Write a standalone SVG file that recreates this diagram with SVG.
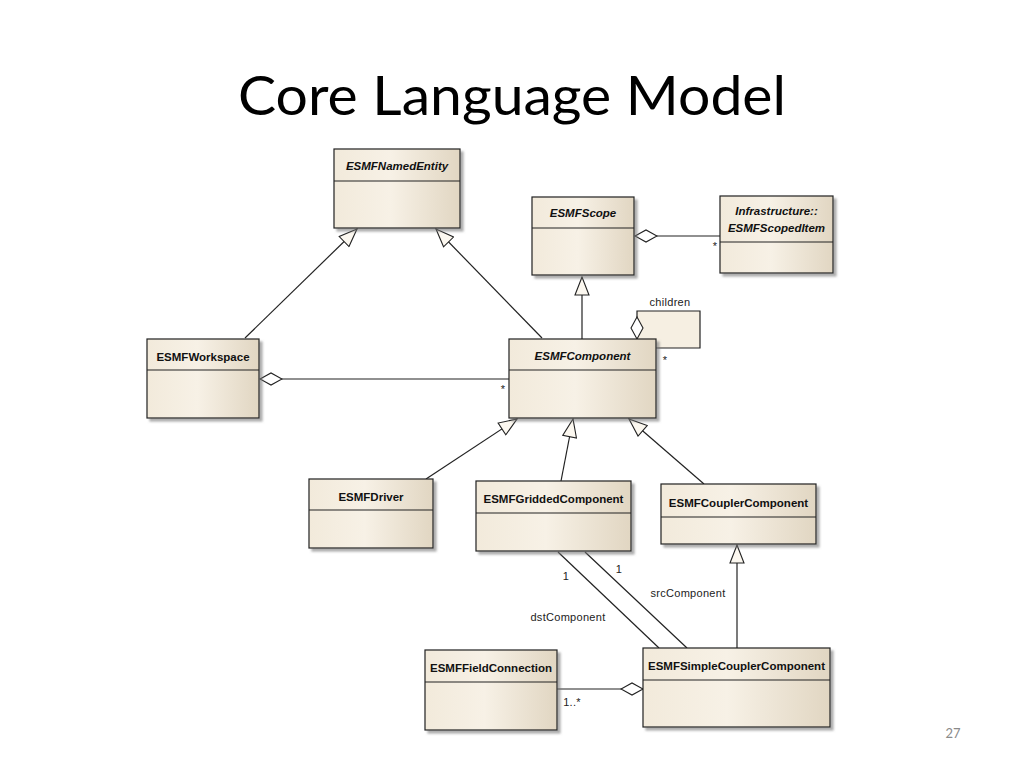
<svg xmlns="http://www.w3.org/2000/svg" width="1024" height="768" viewBox="0 0 1024 768">
<style>
.box{fill:url(#cream);stroke:#222;stroke-width:1.2;filter:url(#sh)}
.div{stroke:#222;stroke-width:1.2}
.nm{font-family:"Liberation Sans",Arial,sans-serif;font-size:11.5px;font-weight:bold;text-anchor:middle;fill:#111}
.it{font-style:italic}
.lbl{font-family:"Liberation Sans",Arial,sans-serif;font-size:11px;fill:#222;letter-spacing:0.3px}
.ln{fill:none;stroke:#222;stroke-width:1.2}
.gen{marker-end:url(#tri)}
.agg{marker-start:url(#dia)}
</style>
<defs>
<linearGradient id="cream" x1="0" y1="0" x2="1" y2="0">
<stop offset="0" stop-color="#f2eadb"/>
<stop offset="0.45" stop-color="#f7f1e6"/>
<stop offset="1" stop-color="#e1d6c2"/>
</linearGradient>
<filter id="sh" x="-10%" y="-10%" width="130%" height="130%">
<feDropShadow dx="3" dy="3" stdDeviation="1.2" flood-color="#777" flood-opacity="0.6"/>
</filter>
<marker id="tri" viewBox="-1 -1 20 16" refX="18" refY="7" markerWidth="20" markerHeight="16" markerUnits="userSpaceOnUse" orient="auto">
<path d="M18,7 L0,0 L0,14 Z" fill="#fcf8f0" stroke="#222" stroke-width="1.1"/>
</marker>
<marker id="dia" viewBox="-1 -1 24 14" refX="0" refY="6" markerWidth="24" markerHeight="14" markerUnits="userSpaceOnUse" orient="auto">
<path d="M0,6 L11,0 L22,6 L11,12 Z" fill="#fff" stroke="#222" stroke-width="1.1"/>
</marker>
</defs>
<rect width="1024" height="768" fill="#fff"/>
<text x="512" y="115" font-family="Lato,'Open Sans',sans-serif" font-size="54" text-anchor="middle" textLength="548" lengthAdjust="spacingAndGlyphs" fill="#000">Core Language Model</text>
<text x="953" y="738" font-family="Lato,'Open Sans',sans-serif" font-size="13" text-anchor="middle" fill="#8a8a8a">27</text>

<g id="connectors">
<path class="ln gen" d="M245,338 L357,229"/>
<path class="ln gen" d="M542,338 L436,229"/>
<path class="ln gen" d="M582,339 L582,277"/>
<path class="ln agg" d="M635,236 L720,236"/>
<path class="ln agg" d="M260,379 L509,379"/>
<path d="M637,311 L700,311 L700,348 L656,348 L656,339 L637,339 Z" fill="#f6efe2" stroke="none"/>
<path class="ln agg" d="M637,339 L637,311 L700,311 L700,348 L656,348"/>
<path class="ln gen" d="M426,479 L517,419"/>
<path class="ln gen" d="M561,481 L573,419"/>
<path class="ln gen" d="M704,484 L629,419"/>
<path class="ln gen" d="M737,648 L737,545"/>
<path class="ln" d="M558,552 L659,648"/>
<path class="ln" d="M585,552 L687,648"/>
<path class="ln agg" d="M643,689 L557,689"/>
<text class="lbl" x="715" y="250" text-anchor="middle">*</text>
<text class="lbl" x="503" y="393" text-anchor="middle">*</text>
<text class="lbl" x="670" y="306" text-anchor="middle">children</text>
<text class="lbl" x="665" y="364" text-anchor="middle">*</text>
<text class="lbl" x="566" y="580" text-anchor="middle">1</text>
<text class="lbl" x="619" y="573" text-anchor="middle">1</text>
<text class="lbl" x="688" y="597" text-anchor="middle">srcComponent</text>
<text class="lbl" x="568" y="621" text-anchor="middle">dstComponent</text>
<text class="lbl" x="572" y="706" text-anchor="middle">1..*</text>
</g>

<g id="ESMFNamedEntity">
<rect class="box" x="334" y="149" width="126" height="79"/>
<line class="div" x1="334" y1="181" x2="460" y2="181"/>
<text class="nm it" x="397" y="170">ESMFNamedEntity</text>
</g>
<g id="ESMFScope">
<rect class="box" x="532" y="197" width="102" height="78"/>
<line class="div" x1="532" y1="228" x2="634" y2="228"/>
<text class="nm it" x="583" y="217">ESMFScope</text>
</g>
<g id="ESMFScopedItem">
<rect class="box" x="720" y="196" width="113" height="77"/>
<line class="div" x1="720" y1="242" x2="833" y2="242"/>
<text class="nm it" x="776.5" y="215">Infrastructure::</text>
<text class="nm it" x="776.5" y="232">ESMFScopedItem</text>
</g>
<g id="ESMFWorkspace">
<rect class="box" x="147" y="339" width="112" height="79"/>
<line class="div" x1="147" y1="370" x2="259" y2="370"/>
<text class="nm" x="203" y="361">ESMFWorkspace</text>
</g>
<g id="ESMFComponent">
<rect class="box" x="509" y="339" width="147" height="79"/>
<line class="div" x1="509" y1="370" x2="656" y2="370"/>
<text class="nm it" x="582.5" y="360">ESMFComponent</text>
</g>
<g id="ESMFDriver">
<rect class="box" x="309" y="479" width="124" height="69"/>
<line class="div" x1="309" y1="510" x2="433" y2="510"/>
<text class="nm" x="371" y="501">ESMFDriver</text>
</g>
<g id="ESMFGriddedComponent">
<rect class="box" x="476" y="481" width="155" height="70"/>
<line class="div" x1="476" y1="513" x2="631" y2="513"/>
<text class="nm" x="553.5" y="503">ESMFGriddedComponent</text>
</g>
<g id="ESMFCouplerComponent">
<rect class="box" x="661" y="484" width="155" height="60"/>
<line class="div" x1="661" y1="517" x2="816" y2="517"/>
<text class="nm" x="738.5" y="507">ESMFCouplerComponent</text>
</g>
<g id="ESMFFieldConnection">
<rect class="box" x="425" y="650" width="132" height="80"/>
<line class="div" x1="425" y1="682" x2="557" y2="682"/>
<text class="nm" x="491" y="672">ESMFFieldConnection</text>
</g>
<g id="ESMFSimpleCouplerComponent">
<rect class="box" x="643" y="648" width="187" height="79"/>
<line class="div" x1="643" y1="680" x2="830" y2="680"/>
<text class="nm" x="736.5" y="670">ESMFSimpleCouplerComponent</text>
</g>
</svg>
